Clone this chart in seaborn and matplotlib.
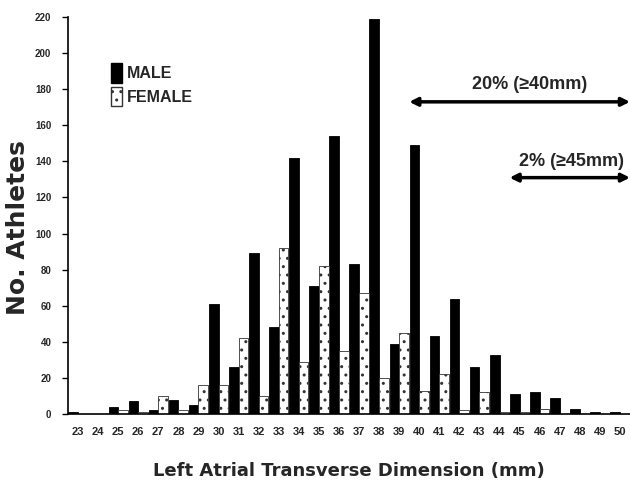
import matplotlib
matplotlib.use("Agg")
import matplotlib.pyplot as plt
import seaborn as sns
import pandas as pd
import numpy as np
from matplotlib.patches import Patch

categories = [str(v) for v in range(23, 51)]
male = [1, 0, 4, 7, 2, 8, 5, 61, 26, 89, 48, 142, 71, 154, 83, 219, 39, 149,
        43, 64, 26, 33, 11, 12, 9, 3, 1, 1]
female = [0, 0, 2, 1, 10, 2, 16, 16, 42, 10, 92, 29, 82, 35, 67, 20, 45, 13,
          22, 2, 12, 1, 1, 3, 0, 0, 0, 0]
series_names = ["MALE", "FEMALE"]
y_ticks = list(range(0, 221, 20))
annotations = [("20% (\u226540mm)", "40"), ("2% (\u226545mm)", "45")]

df = pd.DataFrame({
    "dim": categories * 2,
    "count": male + female,
    "sex": [series_names[0]] * len(categories) + [series_names[1]] * len(categories),
})

sns.set_theme(style="white")
plt.rcParams['font.family'] = ['Liberation Sans', 'DejaVu Sans']
plt.rcParams['hatch.linewidth'] = 1.0

fig = plt.figure(figsize=(6.3, 4.86), dpi=100)
ax = fig.add_axes([0.108, 0.148, 0.892, 0.817])

sns.barplot(data=df, x="dim", y="count", hue="sex", order=categories,
            hue_order=series_names, palette=["black", "white"],
            width=0.96, gap=0, edgecolor="black", linewidth=0.6,
            saturation=1, ax=ax, legend=False)

n = len(categories)
for p in ax.patches[n:2 * n]:
    p.set_hatch("..")
    p.set_edgecolor("#333333")

ax.set_xlim(-0.5, n - 0.5)
ax.set_ylim(0, 220)
ax.set_yticks(y_ticks)
ax.set_yticklabels([str(t) for t in y_ticks], fontsize=7, fontweight="bold")
ax.set_xticks(range(n))
ax.set_xticklabels(categories, fontsize=8, fontweight="bold")
ax.set_xticks(np.arange(-0.5, n, 1.0), minor=True)
ax.tick_params(axis="x", which="major", length=0, pad=9)
ax.tick_params(axis="x", which="minor", length=4, width=1, color="black", direction="out")
ax.tick_params(axis="y", length=4, width=1, color="black", direction="out", left=True, pad=8)

for s in ["top", "right"]:
    ax.spines[s].set_visible(False)
for s in ["left", "bottom"]:
    ax.spines[s].set_color("black")
    ax.spines[s].set_linewidth(1.2)

ax.set_xlabel("Left Atrial Transverse Dimension (mm)", fontsize=13,
              fontweight="bold", family="DejaVu Sans", labelpad=18)
ax.set_ylabel("No. Athletes", fontsize=18, fontweight="bold",
              family="DejaVu Sans")
ax.yaxis.set_label_coords(-0.068, 0.47)

handles = [Patch(facecolor="black", edgecolor="black"),
           Patch(facecolor="white", edgecolor="#333333", hatch="..")]
ax.legend(handles, series_names, loc="upper left", bbox_to_anchor=(0.065, 0.9),
          frameon=False, prop={"weight": "bold", "size": 11.5},
          handlelength=0.7, handleheight=1.5, handletextpad=0.3,
          labelspacing=0.25, borderaxespad=0)

for (label, start), yv, yt, dx in zip(annotations, [173, 131], [178, 135], [0.5, 0.1]):
    x0 = categories.index(start) - 0.5
    ax.annotate("", xy=(n - 0.5, yv), xytext=(x0, yv),
                arrowprops=dict(arrowstyle="<|-|>", color="black", lw=2.5,
                                mutation_scale=12, shrinkA=0, shrinkB=0),
                annotation_clip=False)
    ax.text((x0 + n - 0.5) / 2 + dx, yt, label, ha="center", va="bottom",
            fontsize=13, fontweight="bold")

fig.savefig("out.png", dpi=100)
